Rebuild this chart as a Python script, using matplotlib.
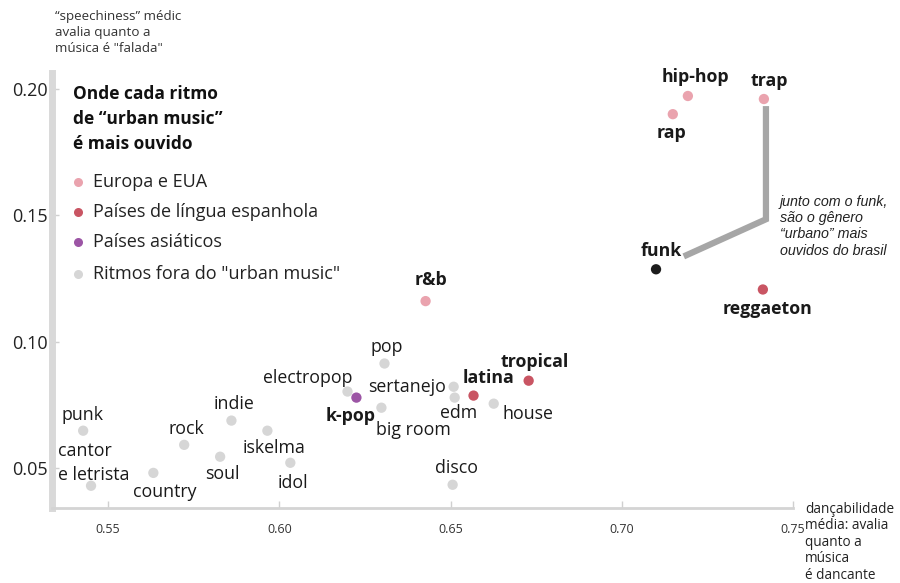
import matplotlib
matplotlib.use("Agg")
import matplotlib.pyplot as plt
from matplotlib.lines import Line2D

# ---------------- data ----------------
genres = ["hip-hop", "trap", "rap", "funk", "reggaeton", "r&b", "pop", "electropop",
          "sertanejo", "k-pop", "big room", "edm", "latina", "tropical", "house",
          "disco", "punk", "cantor\ne letrista", "country", "rock", "soul", "indie",
          "iskelma", "idol"]
danceability = [0.7193, 0.7415, 0.7149, 0.7100, 0.7412, 0.6427, 0.6307, 0.6199,
                0.6509, 0.6225, 0.6298, 0.6512, 0.6567, 0.6728, 0.6626,
                0.6506, 0.5427, 0.5450, 0.5632, 0.5722, 0.5827, 0.5860,
                0.5965, 0.6032]
speechiness = [0.1972, 0.1960, 0.1900, 0.1286, 0.1206, 0.1160, 0.0913, 0.0802,
               0.0821, 0.0778, 0.0738, 0.0778, 0.0786, 0.0845, 0.0754,
               0.0433, 0.0647, 0.0429, 0.0480, 0.0591, 0.0544, 0.0687,
               0.0647, 0.0520]
group = ["eu", "eu", "eu", "funk", "es", "eu", "other", "other",
         "other", "asia", "other", "other", "es", "es", "other",
         "other", "other", "other", "other", "other", "other", "other",
         "other", "other"]

legend_labels = ["Europa e EUA", "Países de língua espanhola", "Países asiáticos",
                 'Ritmos fora do "urban music"']
legend_groups = ["eu", "es", "asia", "other"]
x_ticks = [0.55, 0.60, 0.65, 0.70, 0.75]
y_ticks = [0.05, 0.10, 0.15, 0.20]

# ---------------- style ----------------
colors = {"eu": "#eaa3ae", "es": "#c95563", "asia": "#9c55a5",
          "other": "#d6d6d6", "funk": "#1c1c1c"}
FONT = ["Open Sans", "DejaVu Sans"]
plt.rcParams["font.family"] = FONT

# label offsets in pixels (dx, dy up) and alignment
label_style = {
    "hip-hop": (8, 19, "center"), "trap": (5, 18, "center"), "rap": (-1, -19, "center"),
    "funk": (5, 18, "center"), "reggaeton": (5, -20, "center"), "r&b": (5, 21, "center"),
    "pop": (2, 17, "center"), "electropop": (5, 14, "right"), "sertanejo": (-8, 0, "right"),
    "k-pop": (-6, -18, "center"), "big room": (-5, -22, "left"), "edm": (4, -15, "center"),
    "latina": (15, 18, "center"), "tropical": (6, 19, "center"), "house": (9, -10, "left"),
    "disco": (4, 17, "center"), "punk": (-1, 16, "center"),
    "cantor\ne letrista": (-33, 22.5, "left"), "country": (11, -19, "center"),
    "rock": (2, 16, "center"), "soul": (2, -17, "center"), "indie": (3, 17, "center"),
    "iskelma": (7, -17, "center"), "idol": (3, -20, "center"),
}

W, H = 900, 583
fig = plt.figure(figsize=(9, 5.83), dpi=100)
ax = fig.add_axes([52 / W, 1 - 508 / H, (793 - 52) / W, (508 - 73) / H])

def fx(px):
    return px / W

def fy(py):
    return 1 - py / H

ax.set_xlim(0.5336, 0.75)
ax.set_ylim(0.0341, 0.2063)

# annotation line funk -> trap
i_funk = genres.index("funk")
i_trap = genres.index("trap")
lx = [danceability[i_funk] + 0.0081, danceability[i_trap] + 0.0006, danceability[i_trap] + 0.0006]
ly = [speechiness[i_funk] + 0.0051, speechiness[i_funk] + 0.0198, speechiness[i_trap] - 0.0028]
ax.plot(lx, ly, color="#a6a6a6", lw=4.5, solid_capstyle="butt", solid_joinstyle="miter", zorder=2)

for g in ["other", "eu", "es", "asia", "funk"]:
    xs = [d for d, gg in zip(danceability, group) if gg == g]
    ys = [s for s, gg in zip(speechiness, group) if gg == g]
    ax.scatter(xs, ys, s=55, color=colors[g], edgecolors="none", zorder=3)

for name, x, y, g in zip(genres, danceability, speechiness, group):
    dx, dy, ha = label_style[name]
    bold = g != "other"
    ax.annotate(name, (x, y), xytext=(dx * 0.72, dy * 0.72), textcoords="offset points",
                ha=ha, va="center", fontsize=12.8, fontweight="bold" if bold else "normal",
                color="#1a1a1a", linespacing=1.45, zorder=4)

# spines and ticks
for s in ["top", "right"]:
    ax.spines[s].set_visible(False)
ax.spines["left"].set_color("#d9d9d9")
ax.spines["left"].set_linewidth(5)
ax.spines["bottom"].set_color("#d4d4d4")
ax.spines["bottom"].set_linewidth(2)
ax.spines["bottom"].set_bounds(0.5336, 0.75)

ax.set_xticks(x_ticks)
ax.set_xticklabels([f"{v:.2f}" for v in x_ticks])
ax.set_yticks(y_ticks)
ax.set_yticklabels([f"{v:.2f}" for v in y_ticks])
ax.tick_params(axis="x", direction="in", length=5, width=1, color="#d0d0d0",
               labelsize=9, labelcolor="#333333", pad=11)
ax.tick_params(axis="y", direction="in", length=5, width=1, color="#d0d0d0",
               labelsize=13, labelcolor="#222222", pad=3)

# axis captions
fig.text(fx(55), fy(10), "“speechiness” médic\navalia quanto a\nmúsica é \"falada\"",
         ha="left", va="top", fontsize=9.6, color="#333333", linespacing=1.28)
fig.text(fx(805), fy(502), "dançabilidade\nmédia: avalia\nquanto a\nmúsica\né dancante",
         ha="left", va="top", fontsize=9.8, color="#222222", linespacing=1.13)

# title block
for t, yy in zip(["Onde cada ritmo", "de “urban music”", "é mais ouvido"], [94, 119, 144]):
    fig.text(fx(73), fy(yy), t, ha="left", va="center", fontsize=12.5,
             fontweight="bold", color="#111111")

# legend
for lab, g, yy in zip(legend_labels, legend_groups, [182, 212, 242, 274]):
    fig.add_artist(Line2D([fx(78)], [fy(yy)], marker="o", markersize=6.5, color=colors[g],
                          markeredgewidth=0, linestyle="none", transform=fig.transFigure))
    fig.text(fx(93), fy(yy), lab, ha="left", va="center", fontsize=13, color="#222222")

# annotation text
fig.text(fx(780), fy(195), "junto com o funk,\nsão o gênero\n“urbano” mais\nouvidos do brasil",
         ha="left", va="top", fontsize=10.3, style="italic", color="#222222",
         family=["Liberation Sans", "DejaVu Sans"], linespacing=1.2)

fig.savefig("out.png", dpi=100)
